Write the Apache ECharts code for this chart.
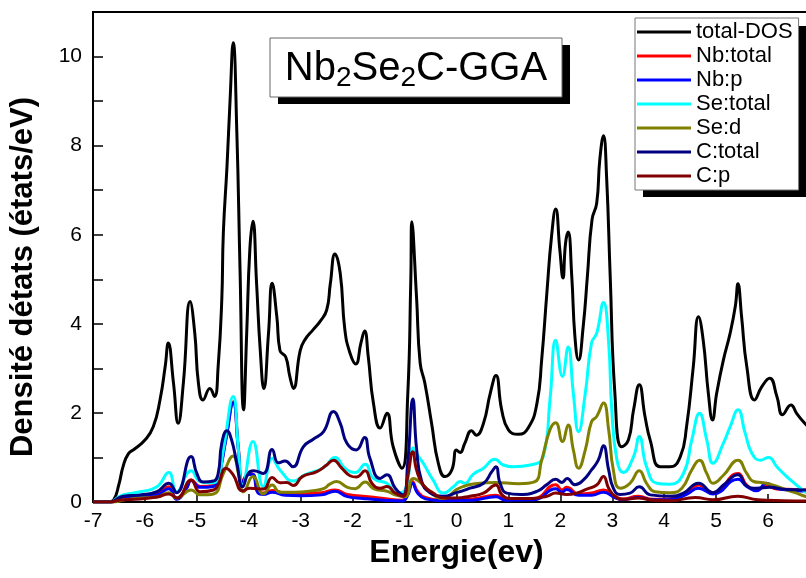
<!DOCTYPE html>
<html>
<head>
<meta charset="utf-8">
<script src="https://cdn.jsdelivr.net/npm/echarts@6/dist/echarts.min.js"></script>
<style>
html, body { margin: 0; padding: 0; background: #fff; }
#main { width: 806px; height: 578px; }
</style>
</head>
<body>
<div id="main"></div>
<script>
// energy (eV), DOS (states/eV)
var totalDos = [
  [-7, 0], [-6.7, 0], [-6.6, 0.05], [-6.5, 0.4], [-6.42, 0.8], [-6.32, 1.08], [-6.2, 1.19], [-6.0, 1.39],
  [-5.84, 1.69], [-5.71, 2.29], [-5.61, 3.04], [-5.55, 3.57], [-5.45, 2.67], [-5.36, 1.77], [-5.26, 2.67],
  [-5.13, 4.5], [-5.04, 3.79], [-4.97, 2.67], [-4.88, 2.29], [-4.75, 2.55], [-4.66, 2.37], [-4.59, 3.04],
  [-4.52, 4.54], [-4.49, 6.04], [-4.42, 7.53], [-4.36, 9.03], [-4.3, 10.31], [-4.23, 8.29], [-4.17, 5.29],
  [-4.1, 2.07], [-4.04, 3.79], [-3.98, 5.66], [-3.92, 6.3], [-3.85, 4.91], [-3.78, 3.42], [-3.71, 2.55],
  [-3.62, 3.79], [-3.55, 4.91], [-3.46, 4.16], [-3.4, 3.4], [-3.29, 3.26], [-3.21, 2.82], [-3.14, 2.55],
  [-3.01, 3.4], [-2.92, 3.64], [-2.76, 3.87], [-2.63, 4.05], [-2.5, 4.31], [-2.43, 4.9], [-2.34, 5.57],
  [-2.24, 5.14], [-2.15, 3.87], [-2.05, 3.34], [-1.94, 3.1], [-1.84, 3.57], [-1.77, 3.84], [-1.7, 3.27],
  [-1.6, 2.22], [-1.47, 1.66], [-1.34, 1.99], [-1.22, 1.24], [-1.05, 0.76], [-0.94, 2.37], [-0.88, 4.99],
  [-0.86, 6.29], [-0.77, 4.61], [-0.7, 3.12], [-0.61, 2.67], [-0.48, 1.77], [-0.35, 0.87], [-0.22, 0.57],
  [-0.09, 0.72], [0.0, 1.17], [0.07, 1.11], [0.16, 1.32], [0.29, 1.6], [0.38, 1.5], [0.52, 1.77],
  [0.65, 2.44], [0.76, 2.84], [0.87, 2.07], [1.0, 1.62], [1.19, 1.52], [1.38, 1.66], [1.55, 2.22],
  [1.64, 3.19], [1.74, 4.69], [1.83, 5.96], [1.91, 6.58], [1.99, 5.66], [2.05, 5.03], [2.1, 5.81],
  [2.15, 6.06], [2.22, 5.06], [2.28, 3.72], [2.35, 3.19], [2.44, 3.94], [2.52, 5.06], [2.61, 6.34],
  [2.7, 6.71], [2.76, 7.69], [2.83, 8.22], [2.89, 7.31], [2.96, 5.06], [3.05, 2.44], [3.18, 1.24],
  [3.31, 1.39], [3.41, 2.07], [3.52, 2.63], [3.63, 1.92], [3.73, 1.39], [3.92, 0.79], [4.11, 0.79],
  [4.31, 1.02], [4.43, 1.69], [4.56, 3.04], [4.66, 4.16], [4.75, 3.64], [4.85, 2.44], [4.93, 1.84],
  [5.01, 2.44], [5.14, 3.19], [5.27, 3.79], [5.37, 4.4], [5.42, 4.9], [5.49, 4.16], [5.59, 3.04],
  [5.74, 2.29], [5.88, 2.59], [6.03, 2.78], [6.17, 2.37], [6.28, 1.96], [6.44, 2.18], [6.55, 1.99],
  [6.68, 1.8], [6.85, 1.6]
];

var nbTotal = [
  [-7, 0], [-6.65, 0], [-6.5, 0.05], [-6.09, 0.14], [-5.77, 0.18], [-5.54, 0.34], [-5.39, 0.07], [-5.2, 0.32],
  [-5.11, 0.5], [-4.94, 0.35], [-4.68, 0.37], [-4.59, 0.53], [-4.44, 1.45], [-4.3, 2.25], [-4.2, 1.2],
  [-4.12, 0.47], [-4.0, 0.64], [-3.92, 0.62], [-3.82, 0.22], [-3.72, 0.2], [-3.55, 0.26], [-3.3, 0.2],
  [-3.0, 0.19], [-2.6, 0.21], [-2.34, 0.27], [-2.1, 0.17], [-1.8, 0.13], [-1.4, 0.08], [-1.05, 0.04],
  [-0.94, 0.2], [-0.85, 0.46], [-0.75, 0.24], [-0.6, 0.1], [-0.3, 0.05], [0.3, 0.07], [0.76, 0.15],
  [0.95, 0.07], [1.5, 0.08], [1.91, 0.39], [2.03, 0.27], [2.12, 0.33], [2.35, 0.18], [2.6, 0.2],
  [2.83, 0.27], [3.05, 0.13], [3.2, 0.07], [3.5, 0.13], [3.78, 0.06], [4.11, 0.07], [4.43, 0.2],
  [4.66, 0.38], [4.94, 0.2], [5.42, 0.64], [5.59, 0.38], [5.78, 0.27], [5.97, 0.36], [6.17, 0.29],
  [6.5, 0.28], [6.85, 0.26]
];

var nbP = [
  [-7, 0], [-6.65, 0], [-6.5, 0.05], [-6.09, 0.13], [-5.77, 0.16], [-5.54, 0.3], [-5.39, 0.06], [-5.2, 0.3],
  [-5.11, 0.48], [-4.94, 0.33], [-4.68, 0.35], [-4.59, 0.51], [-4.44, 1.4], [-4.3, 2.22], [-4.2, 1.17],
  [-4.12, 0.45], [-4.0, 0.62], [-3.92, 0.62], [-3.82, 0.2], [-3.72, 0.17], [-3.55, 0.22], [-3.3, 0.15],
  [-3.0, 0.14], [-2.6, 0.16], [-2.34, 0.24], [-2.1, 0.12], [-1.8, 0.08], [-1.4, 0.04], [-1.05, 0.02],
  [-0.94, 0.15], [-0.85, 0.42], [-0.75, 0.2], [-0.6, 0.07], [-0.3, 0.03], [0.3, 0.04], [0.76, 0.12],
  [0.95, 0.04], [1.5, 0.05], [1.91, 0.3], [2.03, 0.22], [2.12, 0.28], [2.35, 0.15], [2.6, 0.15],
  [2.83, 0.22], [3.05, 0.1], [3.2, 0.05], [3.5, 0.1], [3.78, 0.05], [4.11, 0.05], [4.43, 0.17],
  [4.66, 0.31], [4.94, 0.18], [5.42, 0.51], [5.59, 0.35], [5.78, 0.25], [5.97, 0.42], [6.17, 0.3],
  [6.5, 0.26], [6.85, 0.24]
];

var seTotal = [
  [-7, 0], [-6.65, 0], [-6.55, 0.08], [-6.42, 0.16], [-6.09, 0.23], [-5.77, 0.34], [-5.54, 0.66],
  [-5.39, 0.23], [-5.11, 0.7], [-4.94, 0.46], [-4.75, 0.43], [-4.62, 0.46], [-4.49, 1.17], [-4.3, 2.37],
  [-4.2, 1.17], [-4.12, 0.38], [-3.92, 1.36], [-3.72, 0.34], [-3.55, 0.98], [-3.4, 0.72], [-3.14, 0.47],
  [-2.92, 0.61], [-2.56, 0.77], [-2.34, 1.0], [-2.15, 0.76], [-1.95, 0.66], [-1.76, 0.85], [-1.6, 0.53],
  [-1.34, 0.42], [-1.15, 0.2], [-0.99, 0.27], [-0.83, 1.21], [-0.73, 1.02], [-0.64, 0.87], [-0.45, 0.49],
  [-0.25, 0.2], [-0.06, 0.34], [0.07, 0.46], [0.16, 0.42], [0.32, 0.62], [0.52, 0.76], [0.74, 0.96],
  [0.9, 0.83], [1.1, 0.79], [1.42, 0.83], [1.67, 1.02], [1.8, 2.29], [1.91, 3.63], [2.04, 2.82],
  [2.15, 3.48], [2.25, 2.44], [2.35, 1.58], [2.48, 2.44], [2.6, 3.57], [2.7, 3.79], [2.83, 4.48],
  [2.93, 3.57], [2.99, 2.07], [3.09, 0.94], [3.21, 0.66], [3.41, 1.02], [3.52, 1.47], [3.66, 0.79],
  [3.86, 0.42], [4.11, 0.4], [4.37, 0.64], [4.53, 1.39], [4.68, 1.99], [4.82, 1.39], [4.94, 0.87],
  [5.14, 1.32], [5.27, 1.69], [5.42, 2.07], [5.56, 1.54], [5.69, 1.09], [5.85, 0.94], [6.01, 1.0],
  [6.17, 0.79], [6.36, 0.57], [6.55, 0.38], [6.71, 0.23], [6.85, 0.15]
];

var seD = [
  [-7, 0], [-6.6, 0], [-6.4, 0.05], [-6.09, 0.09], [-5.77, 0.11], [-5.54, 0.21], [-5.39, 0.09],
  [-5.11, 0.27], [-4.94, 0.16], [-4.68, 0.18], [-4.49, 0.64], [-4.3, 1.03], [-4.2, 0.64], [-4.1, 0.23],
  [-3.92, 0.57], [-3.72, 0.18], [-3.55, 0.38], [-3.4, 0.22], [-3.1, 0.22], [-2.8, 0.25], [-2.56, 0.3],
  [-2.44, 0.4], [-2.31, 0.46], [-2.1, 0.33], [-1.95, 0.3], [-1.76, 0.45], [-1.6, 0.3], [-1.34, 0.24],
  [-1.15, 0.15], [-0.99, 0.12], [-0.83, 0.53], [-0.64, 0.38], [-0.45, 0.16], [-0.25, 0.08], [0.0, 0.28],
  [0.16, 0.36], [0.35, 0.41], [0.74, 0.44], [1.2, 0.41], [1.5, 0.45], [1.64, 0.94], [1.8, 1.62],
  [1.91, 1.78], [2.04, 1.36], [2.15, 1.73], [2.25, 1.17], [2.35, 0.76], [2.48, 1.17], [2.6, 1.8],
  [2.7, 1.92], [2.83, 2.22], [2.93, 1.62], [3.02, 0.72], [3.15, 0.31], [3.34, 0.42], [3.52, 0.7],
  [3.66, 0.42], [3.82, 0.23], [4.11, 0.21], [4.34, 0.31], [4.53, 0.72], [4.68, 0.94], [4.82, 0.64],
  [4.94, 0.42], [5.14, 0.6], [5.42, 0.94], [5.59, 0.64], [5.72, 0.46], [5.91, 0.43], [6.1, 0.38],
  [6.36, 0.27], [6.55, 0.2], [6.71, 0.13], [6.85, 0.1]
];

var cTotal = [
  [-7, 0], [-6.65, 0], [-6.55, 0.06], [-6.42, 0.13], [-6.09, 0.16], [-5.77, 0.23], [-5.54, 0.42],
  [-5.39, 0.21], [-5.11, 1.02], [-5.0, 0.64], [-4.88, 0.45], [-4.68, 0.47], [-4.59, 0.64], [-4.52, 1.32],
  [-4.42, 1.6], [-4.33, 1.39], [-4.23, 0.87], [-4.12, 0.34], [-4.01, 0.64], [-3.91, 0.7], [-3.72, 0.64],
  [-3.55, 1.18], [-3.43, 0.88], [-3.3, 0.92], [-3.15, 0.79], [-2.95, 1.24], [-2.76, 1.41], [-2.56, 1.58],
  [-2.37, 2.03], [-2.24, 1.77], [-2.11, 1.32], [-1.93, 1.17], [-1.77, 1.45], [-1.67, 0.99], [-1.47, 0.53],
  [-1.34, 0.61], [-1.18, 0.31], [-1.03, 0.16], [-0.94, 0.87], [-0.84, 2.31], [-0.77, 1.21], [-0.67, 0.46],
  [-0.51, 0.21], [-0.25, 0.13], [0.0, 0.21], [0.26, 0.31], [0.52, 0.42], [0.68, 0.68], [0.76, 0.79],
  [0.84, 0.42], [0.97, 0.2], [1.23, 0.17], [1.55, 0.24], [1.74, 0.39], [1.91, 0.51], [2.03, 0.44],
  [2.13, 0.53], [2.28, 0.39], [2.44, 0.49], [2.6, 0.72], [2.73, 0.94], [2.83, 1.26], [2.93, 0.72],
  [3.02, 0.31], [3.15, 0.17], [3.34, 0.2], [3.52, 0.34], [3.73, 0.16], [4.11, 0.13], [4.37, 0.2],
  [4.66, 0.42], [4.94, 0.21], [5.14, 0.38], [5.42, 0.61], [5.59, 0.36], [5.78, 0.31], [6.03, 0.33],
  [6.36, 0.28], [6.68, 0.27], [6.85, 0.26]
];

var cP = [
  [-7, 0], [-6.65, 0], [-6.5, 0.04], [-6.09, 0.07], [-5.77, 0.11], [-5.54, 0.18], [-5.38, 0.09],
  [-5.11, 0.49], [-4.94, 0.23], [-4.68, 0.27], [-4.59, 0.39], [-4.44, 0.76], [-4.3, 0.61], [-4.12, 0.25],
  [-3.98, 0.31], [-3.72, 0.29], [-3.55, 0.55], [-3.4, 0.43], [-3.27, 0.44], [-3.14, 0.37], [-2.97, 0.57],
  [-2.69, 0.68], [-2.5, 0.83], [-2.37, 0.94], [-2.21, 0.76], [-2.05, 0.59], [-1.93, 0.56], [-1.76, 0.7],
  [-1.63, 0.42], [-1.47, 0.31], [-1.34, 0.35], [-1.18, 0.2], [-1.03, 0.13], [-0.94, 0.57], [-0.84, 1.13],
  [-0.77, 0.72], [-0.64, 0.38], [-0.45, 0.2], [-0.25, 0.09], [0.0, 0.09], [0.26, 0.13], [0.52, 0.2],
  [0.76, 0.38], [0.87, 0.17], [1.03, 0.08], [1.42, 0.08], [1.74, 0.13], [1.91, 0.2], [2.12, 0.17],
  [2.31, 0.2], [2.51, 0.29], [2.7, 0.38], [2.83, 0.57], [2.93, 0.31], [3.05, 0.13], [3.21, 0.06],
  [3.5, 0.09], [3.78, 0.04], [4.11, 0.03], [4.6, 0.1], [4.94, 0.05], [5.42, 0.13], [5.8, 0.05],
  [6.3, 0.03], [6.85, 0.02]
];

var seriesNames = ['total-DOS', 'Nb:total', 'Nb:p', 'Se:total', 'Se:d', 'C:total', 'C:p'];
var seriesColors = ['#000000', '#ff0000', '#0000ff', '#00ffff', '#808000', '#000080', '#800000'];
var seriesData = [totalDos, nbTotal, nbP, seTotal, seD, cTotal, cP];

var chartDom = document.getElementById('main');
var myChart = echarts.init(chartDom);
var font = '"Liberation Sans", Arial, sans-serif';
var option;

option = {
  animation: false,
  backgroundColor: '#fff',
  grid: {
    left: 93, top: 12, width: 727, height: 490,
    containLabel: false,
    outerBoundsMode: 'none',
    show: true, borderColor: '#000', borderWidth: 2
  },
  xAxis: {
    type: 'value',
    min: -7, max: 7, interval: 1,
    name: 'Energie(ev)',
    nameLocation: 'middle',
    nameGap: 35,
    nameTextStyle: { fontFamily: font, fontWeight: 'bold', fontSize: 32, color: '#000' },
    axisLine: { show: true, onZero: false, lineStyle: { color: '#000', width: 2 } },
    axisTick: { show: true, inside: true, length: 8, lineStyle: { color: '#000', width: 1.5 } },
    axisLabel: { fontFamily: font, fontSize: 21, color: '#000', margin: 9 },
    splitLine: { show: false }
  },
  yAxis: {
    type: 'value',
    min: 0, max: 11, interval: 1,
    name: 'Densité détats (états/eV)',
    nameLocation: 'middle',
    nameGap: 54,
    nameRotate: 90,
    nameTextStyle: { fontFamily: font, fontWeight: 'bold', fontSize: 31, color: '#000', padding: [0, 40, 0, 0] },
    axisLine: { show: true, onZero: false, lineStyle: { color: '#000', width: 2 } },
    axisTick: { show: true, inside: true, length: 10, lineStyle: { color: '#000', width: 1.5 } },
    axisLabel: {
      fontFamily: font, fontSize: 21, color: '#000', margin: 11,
      formatter: function (v) { return v % 2 === 0 ? String(v) : ''; }
    },
    splitLine: { show: false }
  },
  legend: {
    orient: 'vertical',
    left: 635, top: 18,
    padding: [2, 6, 2, 2],
    itemGap: 0,
    itemWidth: 54,
    itemHeight: 3,
    icon: 'rect',
    backgroundColor: '#fff',
    borderColor: '#777',
    borderWidth: 1,
    z: 20,
    textStyle: { fontFamily: font, fontSize: 22, color: '#000', lineHeight: 24 },
    data: seriesNames
  },
  graphic: [
    // legend drop shadow
    { type: 'rect', shape: { x: 643, y: 26, width: 166, height: 171 }, style: { fill: '#000' }, z: 15 },
    // title box
    { type: 'rect', shape: { x: 278, y: 45, width: 292, height: 59 }, style: { fill: '#000' }, z: 30 },
    { type: 'rect', shape: { x: 270, y: 38, width: 292, height: 59 }, style: { fill: '#fff', stroke: '#666', lineWidth: 1 }, z: 31 },
    {
      type: 'text', x: 416, y: 69, z: 32,
      style: {
        text: '{m|Nb}{s|2}{m|Se}{s|2}{m|C-GGA}',
        align: 'center', verticalAlign: 'middle',
        rich: {
          m: { fontFamily: font, fontSize: 40, lineHeight: 46, fill: '#000' },
          s: { fontFamily: font, fontSize: 28, lineHeight: 20, verticalAlign: 'bottom', fill: '#000' }
        }
      }
    }
  ],
  series: seriesData.map(function (d, i) {
    return {
      name: seriesNames[i],
      type: 'line',
      data: d,
      smooth: 0.5,
      symbol: 'none',
      showSymbol: false,
      color: seriesColors[i],
      lineStyle: { color: seriesColors[i], width: 3 }
    };
  })
};

option && myChart.setOption(option);
</script>
</body>
</html>
